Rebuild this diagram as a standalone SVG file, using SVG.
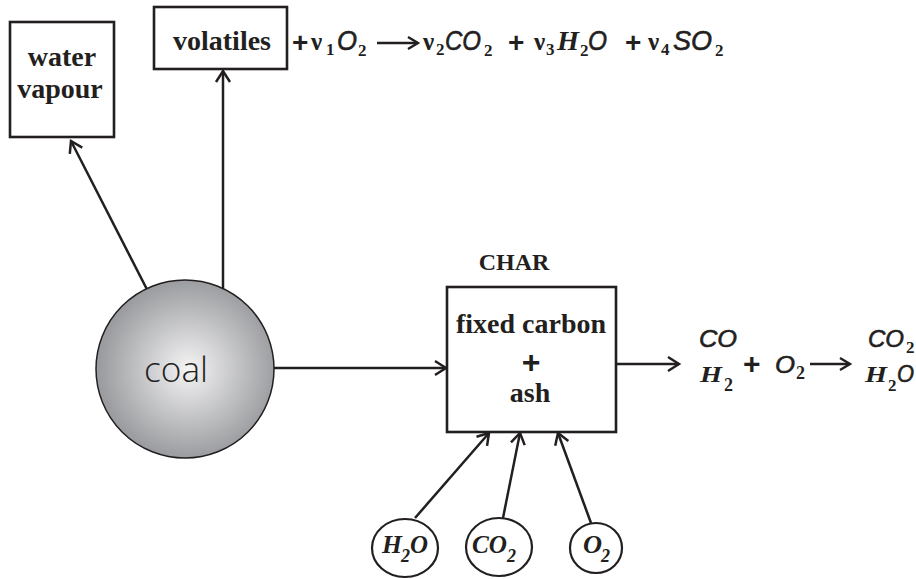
<svg xmlns="http://www.w3.org/2000/svg" width="916" height="579" viewBox="0 0 916 579">
<style>
.box{fill:#fff;stroke:#231f20;stroke-width:2.6}
.ell{fill:#fff;stroke:#231f20;stroke-width:2.2}
.lbl{font-family:"Liberation Serif",serif;font-weight:bold;fill:#231f20;text-anchor:middle}
.conn{stroke:#231f20;stroke-width:2.5;fill:none;marker-end:url(#ah)}
.rx{stroke:#231f20;stroke-width:2.4;fill:none;marker-end:url(#ah2)}
.eq{font-family:"Liberation Serif",serif;font-weight:bold;fill:#231f20}
.it{font-family:"Liberation Serif",serif;font-style:italic;font-weight:bold;fill:#231f20}
.ss{font-family:"Liberation Sans",sans-serif;font-style:italic;fill:#231f20;stroke:#231f20;stroke-width:0.6}
.pl{font-family:"Liberation Sans",sans-serif;font-weight:bold;fill:#231f20}
</style>
<defs>
<radialGradient id="cg" cx="0.52" cy="0.5" r="0.5">
<stop offset="0" stop-color="#f4f4f5"/>
<stop offset="1" stop-color="#9b9c9f"/>
</radialGradient>
<marker id="ah" markerUnits="userSpaceOnUse" markerWidth="20" markerHeight="20" viewBox="-14 -10 20 20" refX="0" refY="0" orient="auto">
<path d="M-11,-7 L0,0 L-11,7" fill="none" stroke="#231f20" stroke-width="2.5"/>
</marker>
<marker id="ah2" markerUnits="userSpaceOnUse" markerWidth="20" markerHeight="20" viewBox="-14 -10 20 20" refX="0" refY="0" orient="auto">
<path d="M-10,-6 L0,0 L-10,6" fill="none" stroke="#231f20" stroke-width="2.4"/>
</marker>
</defs>
<rect width="916" height="579" fill="#fff"/>

<g id="connectors">
<line class="conn" x1="157" y1="309" x2="71" y2="141"/>
<line class="conn" x1="223" y1="306" x2="223" y2="71"/>
<line class="conn" x1="273" y1="368" x2="446" y2="368"/>
<line class="conn" x1="616" y1="364" x2="679" y2="364"/>
<line class="conn" x1="415" y1="518" x2="489" y2="433"/>
<line class="conn" x1="503" y1="518" x2="520" y2="433"/>
<line class="conn" x1="591" y1="523" x2="558" y2="433"/>
</g>

<g id="water-vapour">
<rect class="box" x="10" y="22" width="104" height="115"/>
<text class="lbl" x="62" y="66" font-size="28">water</text>
<text class="lbl" x="60" y="98" font-size="28">vapour</text>
</g>

<g id="volatiles">
<rect class="box" x="154" y="7" width="133" height="62"/>
<text class="lbl" x="222" y="50" font-size="28">volatiles</text>
</g>

<g id="volatiles-reaction">
<text class="pl" x="292" y="52" font-size="28">+</text>
<text class="eq" x="311" y="50" font-size="25">ν</text>
<text class="eq" x="326" y="55" font-size="17">1</text>
<text class="ss" x="337" y="50" font-size="27" textLength="20" lengthAdjust="spacingAndGlyphs">O</text>
<text class="eq" x="358" y="56" font-size="17">2</text>
<path class="rx" d="M377,43 H418"/>
<text class="eq" x="423" y="50" font-size="25">ν</text>
<text class="eq" x="436" y="55" font-size="17">2</text>
<text class="ss" x="445" y="50" font-size="27" textLength="36" lengthAdjust="spacingAndGlyphs">CO</text>
<text class="eq" x="484" y="56" font-size="17">2</text>
<text class="pl" x="508" y="52" font-size="28">+</text>
<text class="eq" x="534" y="50" font-size="25">ν</text>
<text class="eq" x="546" y="55" font-size="17">3</text>
<text class="it" x="557" y="50" font-size="27" textLength="22" lengthAdjust="spacingAndGlyphs">H</text>
<text class="eq" x="580" y="56" font-size="17">2</text>
<text class="ss" x="588" y="50" font-size="27" textLength="19" lengthAdjust="spacingAndGlyphs">O</text>
<text class="pl" x="625" y="52" font-size="28">+</text>
<text class="eq" x="648" y="50" font-size="25">ν</text>
<text class="eq" x="661" y="55" font-size="17">4</text>
<text class="ss" x="673" y="50" font-size="27" textLength="39" lengthAdjust="spacingAndGlyphs">SO</text>
<text class="eq" x="715" y="56" font-size="17">2</text>
</g>

<g id="coal">
<circle cx="185" cy="369" r="89" fill="url(#cg)" stroke="#231f20" stroke-width="1.5"/>
<text x="144" y="382" font-family="'Open Sans',sans-serif" font-weight="300" font-size="34" textLength="64" lengthAdjust="spacingAndGlyphs" fill="#231f20">coal</text>
</g>

<g id="char">
<text class="lbl" x="514" y="270" font-size="24">CHAR</text>
<rect class="box" x="447" y="287" width="169" height="145"/>
<text class="lbl" x="531" y="333" font-size="28">fixed carbon</text>
<text class="pl" x="531" y="373" font-size="32" text-anchor="middle">+</text>
<text class="lbl" x="530" y="402" font-size="28">ash</text>
</g>

<g id="char-reaction">
<text class="ss" x="699" y="347" font-size="24" textLength="38" lengthAdjust="spacingAndGlyphs">CO</text>
<text class="it" x="700" y="382" font-size="24" textLength="22" lengthAdjust="spacingAndGlyphs">H</text>
<text class="eq" x="724" y="391" font-size="18">2</text>
<text class="pl" x="743" y="374" font-size="30">+</text>
<text class="ss" x="775" y="373" font-size="24" textLength="20" lengthAdjust="spacingAndGlyphs">O</text>
<text class="eq" x="796" y="379" font-size="18">2</text>
<path class="rx" d="M810,364 H850"/>
<text class="ss" x="868" y="347" font-size="24" textLength="36" lengthAdjust="spacingAndGlyphs">CO</text>
<text class="eq" x="906" y="353" font-size="17">2</text>
<text class="it" x="865" y="382" font-size="24" textLength="22" lengthAdjust="spacingAndGlyphs">H</text>
<text class="eq" x="888" y="391" font-size="17">2</text>
<text class="ss" x="897" y="382" font-size="24" textLength="17" lengthAdjust="spacingAndGlyphs">O</text>
</g>

<g id="h2o">
<ellipse class="ell" cx="405" cy="548" rx="33" ry="29"/>
<text class="it" x="382" y="553" font-size="26" textLength="20" lengthAdjust="spacingAndGlyphs">H</text>
<text class="it" x="401" y="562" font-size="18">2</text>
<text class="it" x="410" y="553" font-size="26" textLength="18" lengthAdjust="spacingAndGlyphs">O</text>
</g>

<g id="co2">
<ellipse class="ell" cx="499" cy="547" rx="33" ry="29"/>
<text class="it" x="472" y="553" font-size="26" textLength="35" lengthAdjust="spacingAndGlyphs">CO</text>
<text class="it" x="507" y="562" font-size="18">2</text>
</g>

<g id="o2">
<ellipse class="ell" cx="596" cy="548" rx="26" ry="25"/>
<text class="it" x="583" y="553" font-size="26" textLength="19" lengthAdjust="spacingAndGlyphs">O</text>
<text class="it" x="601" y="562" font-size="18">2</text>
</g>
</svg>
